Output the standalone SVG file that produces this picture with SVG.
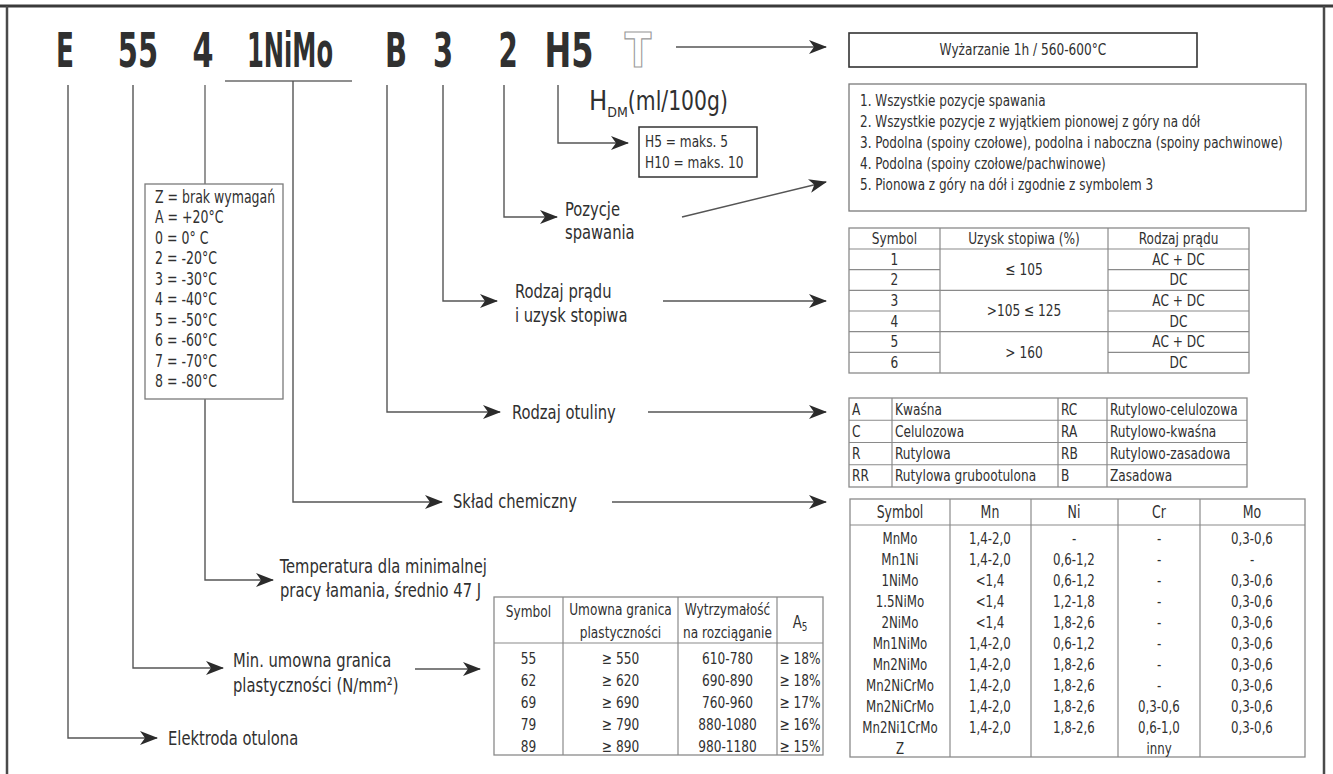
<svg xmlns="http://www.w3.org/2000/svg" width="1333" height="774" viewBox="0 0 1333 774">
<defs>
<marker id="ah" markerWidth="18" markerHeight="14" refX="17" refY="7" orient="auto" markerUnits="userSpaceOnUse">
<path d="M0,0 L18,7 L0,14 L5,7 Z" fill="#2b2b2b"/>
</marker>
<style>
.f{font-family:'Liberation Sans Narrow','DejaVu Sans Condensed','Roboto Condensed','Liberation Sans',sans-serif;fill:#303030}
.code{font-size:48px;font-weight:bold;text-anchor:middle;transform-box:fill-box;transform-origin:50% 0}
.lbl{font-size:20px}
.sm{font-size:16.5px}
.tb{font-size:16.5px}
.ch{font-size:16px}
.c{text-anchor:middle}
.S text,text.S{transform-box:fill-box;transform-origin:0 0;transform:scaleX(0.82)}
.M text,text.M{transform-box:fill-box;transform-origin:50% 0;transform:scaleX(0.82)}
.ln{fill:none;stroke:#6a6a6a;stroke-width:1.4}
.ar{fill:none;stroke:#555;stroke-width:1.4;marker-end:url(#ah)}
.box{fill:#fff;stroke:#7a7a7a;stroke-width:1.3}
.grid{stroke:#8a8a8a;stroke-width:1.2}
</style>
</defs>
<rect width="1333" height="774" fill="#fff"/>
<g id="frame">
<line x1="0" y1="6" x2="1333" y2="6" stroke="#3a3a3a" stroke-width="3"/>
<line x1="7" y1="6" x2="7" y2="774" stroke="#4a4a4a" stroke-width="2.5"/>
<line x1="1324" y1="6" x2="1324" y2="774" stroke="#4a4a4a" stroke-width="2.5"/>
</g>
<g id="code">
<text class="f code" x="65" y="67" style="transform:scaleX(0.61)">E</text>
<text class="f code" x="138" y="67" style="transform:scaleX(0.67)">55</text>
<text class="f code" x="203" y="67" style="transform:scaleX(0.70)">4</text>
<text class="f code" x="290" y="67" style="transform:scaleX(0.56)">1NiMo</text>
<text class="f code" x="396" y="67" style="transform:scaleX(0.67)">B</text>
<text class="f code" x="443" y="67" style="transform:scaleX(0.67)">3</text>
<text class="f code" x="508" y="67" style="transform:scaleX(0.64)">2</text>
<text class="f code" x="569" y="67" style="transform:scaleX(0.74)">H5</text>
<text class="f code" x="638" y="67" style="transform:scaleX(0.9);fill:#fff;stroke:#9a9a9a;stroke-width:1.2">T</text>
</g>
<g id="connectors">
<line class="ln" x1="225" y1="81" x2="352" y2="81"/>
<polyline class="ar" points="68,85 68,738 157,738"/>
<polyline class="ar" points="133,85 133,668 223,668"/>
<line class="ln" x1="205" y1="85" x2="205" y2="184"/>
<polyline class="ar" points="205,399 205,580 273,580"/>
<polyline class="ar" points="293,81 293,502 442,502"/>
<polyline class="ar" points="387,85 387,412 500,412"/>
<polyline class="ar" points="443,85 443,301 497,301"/>
<polyline class="ar" points="504,85 504,217 557,217"/>
<polyline class="ar" points="558,85 558,143 628,143"/>
<line class="ar" x1="676" y1="47" x2="826" y2="47"/>
<line class="ar" x1="682" y1="217" x2="826" y2="182"/>
<line class="ar" x1="663" y1="301" x2="826" y2="301"/>
<line class="ar" x1="648" y1="412" x2="826" y2="412"/>
<line class="ar" x1="612" y1="502" x2="826" y2="502"/>
<line class="ar" x1="415" y1="669" x2="480" y2="669"/>
</g>
<g id="hdm">
<text class="f" x="589" y="110" style="font-size:27px"><tspan>H</tspan><tspan dy="7" style="font-size:14px">DM</tspan><tspan dy="-7" textLength="100" lengthAdjust="spacingAndGlyphs">(ml/100g)</tspan></text>
</g>
<g id="h-box" class="S">
<rect x="639" y="127" width="118" height="50" fill="#fff" stroke="#333" stroke-width="1.5"/>
<text class="f sm" x="645" y="147">H5 = maks. 5</text>
<text class="f sm" x="645" y="168">H10 = maks. 10</text>
</g>
<g id="anneal" class="M">
<rect x="849" y="33" width="348" height="34" fill="#fff" stroke="#333" stroke-width="1.6"/>
<text class="f c" x="1023" y="55" style="font-size:16.5px">Wyżarzanie 1h / 560-600°C</text>
</g>
<g id="positions" class="S">
<rect class="box" x="849" y="84" width="457" height="127"/>
<text class="f" x="860" y="106" style="font-size:16.3px">1. Wszystkie pozycje spawania</text>
<text class="f" x="860" y="127" style="font-size:16.3px">2. Wszystkie pozycje z wyjątkiem pionowej z góry na dół</text>
<text class="f" x="860" y="148" style="font-size:16.3px">3. Podolna (spoiny czołowe), podolna i naboczna (spoiny pachwinowe)</text>
<text class="f" x="860" y="169" style="font-size:16.3px">4. Podolna (spoiny czołowe/pachwinowe)</text>
<text class="f" x="860" y="190" style="font-size:16.3px">5. Pionowa z góry na dół i zgodnie z symbolem 3</text>
</g>
<g id="temp-box" class="S">
<rect class="box" x="145" y="184" width="138" height="215"/>
<text class="f" x="155" y="203" style="font-size:17px">Z = brak wymagań</text>
<text class="f" x="155" y="223.5" style="font-size:17px">A = +20°C</text>
<text class="f" x="155" y="244" style="font-size:17px">0 = 0° C</text>
<text class="f" x="155" y="264.5" style="font-size:17px">2 = -20°C</text>
<text class="f" x="155" y="285" style="font-size:17px">3 = -30°C</text>
<text class="f" x="155" y="305.5" style="font-size:17px">4 = -40°C</text>
<text class="f" x="155" y="326" style="font-size:17px">5 = -50°C</text>
<text class="f" x="155" y="346.5" style="font-size:17px">6 = -60°C</text>
<text class="f" x="155" y="367" style="font-size:17px">7 = -70°C</text>
<text class="f" x="155" y="387.5" style="font-size:17px">8 = -80°C</text>
</g>
<g id="labels" class="S">
<text class="f lbl" x="565" y="216">Pozycje</text>
<text class="f lbl" x="565" y="239">spawania</text>
<text class="f lbl" x="515" y="298">Rodzaj prądu</text>
<text class="f lbl" x="515" y="322">i uzysk stopiwa</text>
<text class="f lbl" x="512" y="419">Rodzaj otuliny</text>
<text class="f lbl" x="453" y="508">Skład chemiczny</text>
<text class="f lbl" x="280" y="573">Temperatura dla minimalnej</text>
<text class="f lbl" x="280" y="597">pracy łamania, średnio 47 J</text>
<text class="f lbl" x="233" y="667">Min. umowna granica</text>
<text class="f lbl" x="233" y="692">plastyczności (N/mm²)</text>
<text class="f lbl" x="168" y="745">Elektroda otulona</text>
</g>
<g id="current-table">
<rect x="849" y="228" width="400" height="145" fill="#fff" stroke="#8a8a8a" stroke-width="1.3"/>
<line class="grid" x1="940" y1="228" x2="940" y2="373"/>
<line class="grid" x1="1108" y1="228" x2="1108" y2="373"/>
<line class="grid" x1="849" y1="249" x2="1249" y2="249"/>
<line class="grid" x1="849" y1="269.7" x2="940" y2="269.7"/>
<line class="grid" x1="1108" y1="269.7" x2="1249" y2="269.7"/>
<line class="grid" x1="849" y1="290.3" x2="1249" y2="290.3"/>
<line class="grid" x1="849" y1="311" x2="940" y2="311"/>
<line class="grid" x1="1108" y1="311" x2="1249" y2="311"/>
<line class="grid" x1="849" y1="331.7" x2="1249" y2="331.7"/>
<line class="grid" x1="849" y1="352.3" x2="940" y2="352.3"/>
<line class="grid" x1="1108" y1="352.3" x2="1249" y2="352.3"/>
<g class="f tb c M">
<text x="894.5" y="244">Symbol</text><text x="1024" y="244">Uzysk stopiwa (%)</text><text x="1178.5" y="244">Rodzaj prądu</text>
<text x="894.5" y="265">1</text><text x="894.5" y="285.5">2</text><text x="894.5" y="306">3</text><text x="894.5" y="327">4</text><text x="894.5" y="347.5">5</text><text x="894.5" y="368">6</text>
<text x="1024" y="275">≤ 105</text><text x="1024" y="316.5">&gt;105 ≤ 125</text><text x="1024" y="358">&gt; 160</text>
<text x="1178.5" y="265">AC + DC</text><text x="1178.5" y="285.5">DC</text><text x="1178.5" y="306">AC + DC</text><text x="1178.5" y="327">DC</text><text x="1178.5" y="347.5">AC + DC</text><text x="1178.5" y="368">DC</text>
</g>
</g>
<g id="coating-table">
<rect x="849" y="398" width="398" height="89" fill="#fff" stroke="#8a8a8a" stroke-width="1.3"/>
<line class="grid" x1="892" y1="398" x2="892" y2="487"/>
<line class="grid" x1="1058" y1="398" x2="1058" y2="487"/>
<line class="grid" x1="1107" y1="398" x2="1107" y2="487"/>
<line class="grid" x1="849" y1="420.25" x2="1247" y2="420.25"/>
<line class="grid" x1="849" y1="442.5" x2="1247" y2="442.5"/>
<line class="grid" x1="849" y1="464.75" x2="1247" y2="464.75"/>
<g class="f tb S">
<text x="852" y="415">A</text><text x="895" y="415">Kwaśna</text><text x="1061" y="415">RC</text><text x="1110" y="415">Rutylowo-celulozowa</text>
<text x="852" y="437">C</text><text x="895" y="437">Celulozowa</text><text x="1061" y="437">RA</text><text x="1110" y="437">Rutylowo-kwaśna</text>
<text x="852" y="459">R</text><text x="895" y="459">Rutylowa</text><text x="1061" y="459">RB</text><text x="1110" y="459">Rutylowo-zasadowa</text>
<text x="852" y="481.5">RR</text><text x="895" y="481.5">Rutylowa grubootulona</text><text x="1061" y="481.5">B</text><text x="1110" y="481.5">Zasadowa</text>
</g>
</g>
<g id="chem-table">
<rect x="850" y="499" width="455" height="258" fill="#fff" stroke="#8a8a8a" stroke-width="1.3"/>
<line class="grid" x1="950" y1="499" x2="950" y2="757"/>
<line class="grid" x1="1031" y1="499" x2="1031" y2="757"/>
<line class="grid" x1="1118" y1="499" x2="1118" y2="757"/>
<line class="grid" x1="1200" y1="499" x2="1200" y2="757"/>
<line class="grid" x1="850" y1="525" x2="1305" y2="525"/>
<g class="f ch c M">
<text x="900" y="518" style="font-size:17px">Symbol</text><text x="990" y="518" style="font-size:17px">Mn</text><text x="1074" y="518" style="font-size:17px">Ni</text><text x="1159" y="518" style="font-size:17px">Cr</text><text x="1252" y="518" style="font-size:17px">Mo</text>
<text x="900" y="544">MnMo</text><text x="990" y="544">1,4-2,0</text><text x="1074" y="544">-</text><text x="1159" y="544">-</text><text x="1252" y="544">0,3-0,6</text>
<text x="900" y="565">Mn1Ni</text><text x="990" y="565">1,4-2,0</text><text x="1074" y="565">0,6-1,2</text><text x="1159" y="565">-</text><text x="1252" y="565">-</text>
<text x="900" y="586">1NiMo</text><text x="990" y="586">&lt;1,4</text><text x="1074" y="586">0,6-1,2</text><text x="1159" y="586">-</text><text x="1252" y="586">0,3-0,6</text>
<text x="900" y="607">1.5NiMo</text><text x="990" y="607">&lt;1,4</text><text x="1074" y="607">1,2-1,8</text><text x="1159" y="607">-</text><text x="1252" y="607">0,3-0,6</text>
<text x="900" y="628">2NiMo</text><text x="990" y="628">&lt;1,4</text><text x="1074" y="628">1,8-2,6</text><text x="1159" y="628">-</text><text x="1252" y="628">0,3-0,6</text>
<text x="900" y="649">Mn1NiMo</text><text x="990" y="649">1,4-2,0</text><text x="1074" y="649">0,6-1,2</text><text x="1159" y="649">-</text><text x="1252" y="649">0,3-0,6</text>
<text x="900" y="670">Mn2NiMo</text><text x="990" y="670">1,4-2,0</text><text x="1074" y="670">1,8-2,6</text><text x="1159" y="670">-</text><text x="1252" y="670">0,3-0,6</text>
<text x="900" y="691">Mn2NiCrMo</text><text x="990" y="691">1,4-2,0</text><text x="1074" y="691">1,8-2,6</text><text x="1159" y="691">-</text><text x="1252" y="691">0,3-0,6</text>
<text x="900" y="712">Mn2NiCrMo</text><text x="990" y="712">1,4-2,0</text><text x="1074" y="712">1,8-2,6</text><text x="1159" y="712">0,3-0,6</text><text x="1252" y="712">0,3-0,6</text>
<text x="900" y="733">Mn2Ni1CrMo</text><text x="990" y="733">1,4-2,0</text><text x="1074" y="733">1,8-2,6</text><text x="1159" y="733">0,6-1,0</text><text x="1252" y="733">0,3-0,6</text>
<text x="900" y="754">Z</text><text x="1159" y="754">inny</text>
</g>
</g>
<g id="yield-table">
<rect x="494" y="597" width="329" height="158" fill="#fff" stroke="#8a8a8a" stroke-width="1.3"/>
<line class="grid" x1="563" y1="597" x2="563" y2="755"/>
<line class="grid" x1="678" y1="597" x2="678" y2="755"/>
<line class="grid" x1="777" y1="597" x2="777" y2="755"/>
<line class="grid" x1="494" y1="643" x2="823" y2="643"/>
<g class="f tb c M">
<text x="528.5" y="617">Symbol</text>
<text x="620.5" y="615">Umowna granica</text><text x="620.5" y="638">plastyczności</text>
<text x="727.5" y="615">Wytrzymałość</text><text x="727.5" y="638">na rozciąganie</text>
<text x="800" y="628" style="font-size:18px">A<tspan dy="3" style="font-size:12px">5</tspan></text>
<text x="528.5" y="664">55</text><text x="620.5" y="664">≥ 550</text><text x="727.5" y="664">610-780</text><text x="800" y="664">≥ 18%</text>
<text x="528.5" y="686">62</text><text x="620.5" y="686">≥ 620</text><text x="727.5" y="686">690-890</text><text x="800" y="686">≥ 18%</text>
<text x="528.5" y="708.5">69</text><text x="620.5" y="708.5">≥ 690</text><text x="727.5" y="708.5">760-960</text><text x="800" y="708.5">≥ 17%</text>
<text x="528.5" y="730.5">79</text><text x="620.5" y="730.5">≥ 790</text><text x="727.5" y="730.5">880-1080</text><text x="800" y="730.5">≥ 16%</text>
<text x="528.5" y="752">89</text><text x="620.5" y="752">≥ 890</text><text x="727.5" y="752">980-1180</text><text x="800" y="752">≥ 15%</text>
</g>
</g>
</svg>
